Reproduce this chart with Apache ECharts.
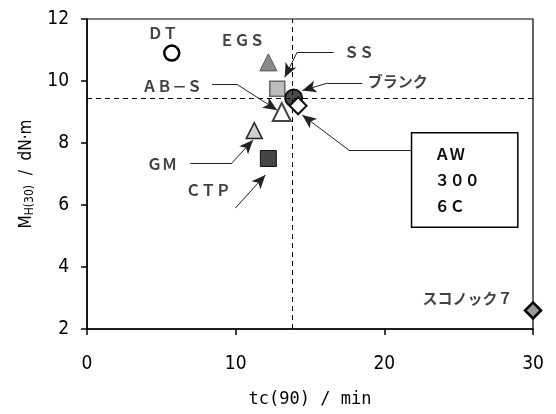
<!DOCTYPE html>
<html><head><meta charset="utf-8">
<script src="https://cdn.jsdelivr.net/npm/echarts@6/dist/echarts.min.js"></script>
<style>html,body{margin:0;padding:0;background:#fff}#c{width:556px;height:414px}</style>
</head><body><div id="c"></div>
<script>
// ---- data ----
const xTicks = [0, 10, 20, 30];
const yTicks = [2, 4, 6, 8, 10, 12];
const pointNames = ['DT', 'EGS', 'SS', 'AB-S', 'GM', 'CTP', 'ブランク', 'AW3006C', 'スコノック7'];
const tc90 = [5.7, 12.2, 12.8, 13.1, 11.25, 12.2, 13.9, 14.2, 30];
const mh30 = [10.9, 10.6, 9.75, 9.0, 8.4, 7.5, 9.45, 9.2, 2.6];
const refTc = 13.8;
const refMh = 9.45;
const labelTexts = ['ＤＴ', 'ＥＧＳ', 'ＳＳ', 'ＡＢ－Ｓ', 'ブランク', 'ＧＭ', 'ＣＴＰ', 'スコノック７'];
const labelX = [5.1, 10.43, 18.3, 5.71, 20.9, 5.04, 8.16, 25.6];
const labelY = [11.54, 11.3, 10.91, 9.84, 9.98, 7.32, 6.48, 2.99];
const arrowPaths = [
  [[16.59, 10.93], [14.14, 10.93], [13.3, 10.12]],   // SS
  [[8.41, 9.89], [10.09, 9.89], [12.79, 9.06]],      // AB-S
  [[18.52, 9.93], [16.16, 9.93], [14.48, 9.69]],     // ブランク
  [[21.83, 7.77], [17.62, 7.77], [14.48, 8.9]],      // AW 300 6C
  [[6.95, 7.36], [9.76, 7.36], [11.17, 8.1]],        // GM
  [[9.98, 5.9], [12.0, 6.97]]                        // CTP
];
const boxCorners = [[21.83, 8.33], [28.98, 5.28]];
const boxText = ['ＡＷ', '３００', '６Ｃ'];

// ---- styles ----
const markerStyles = [
  {symbol: 'circle', size: 15, color: '#fff', border: '#000', bw: 2.5},
  {symbol: 'triangle', size: 17, color: '#8a8a8a', border: '#555', bw: 1},
  {symbol: 'rect', size: 15, color: '#bdbdbd', border: '#666', bw: 1.5},
  {symbol: 'triangle', size: 18, color: '#fff', border: '#444', bw: 2},
  {symbol: 'triangle', size: 16, color: '#cfcfcf', border: '#222', bw: 1.5},
  {symbol: 'rect', size: 16, color: '#454545', border: '#111', bw: 1},
  {symbol: 'circle', size: 17, color: '#4a4a4a', border: '#111', bw: 2},
  {symbol: 'diamond', size: 17, color: '#fff', border: '#111', bw: 2},
  {symbol: 'diamond', size: 16, color: '#9a9a9a', border: '#000', bw: 2.5}
];
const JP = '"Noto Sans CJK JP", sans-serif';
const NARROW = '"Liberation Sans Narrow", "DejaVu Sans Condensed", sans-serif';

const series = [];
// reference dashed lines
series.push({
  type: 'scatter', data: [], silent: true,
  markLine: {
    silent: true, symbol: ['none', 'none'], animation: false,
    label: {show: false},
    lineStyle: {type: [5, 4], color: '#000', width: 1},
    data: [{xAxis: refTc}, {yAxis: refMh}]
  }
});
// annotation box
series.push({
  type: 'scatter', data: [], silent: true, z: 1,
  markArea: {
    silent: true, animation: false,
    itemStyle: {color: '#fff', borderColor: '#000', borderWidth: 1.5},
    label: {show: true, position: 'insideLeft', distance: 24, formatter: boxText.join('\n'),
            fontFamily: JP, fontSize: 15, fontWeight: 'bold', lineHeight: 26, color: '#111'},
    data: [[{coord: boxCorners[0]}, {coord: boxCorners[1]}]]
  }
});
// points
pointNames.forEach((n, i) => {
  const s = markerStyles[i];
  series.push({
    type: 'scatter', name: n, z: 3,
    symbol: s.symbol, symbolSize: s.size,
    itemStyle: {color: s.color, borderColor: s.border, borderWidth: s.bw, opacity: 1},
    data: [[tc90[i], mh30[i]]]
  });
});
// arrows
const arrowSegs = [];
arrowPaths.forEach(p => {
  for (let k = 0; k < p.length - 1; k++) {
    const last = k === p.length - 2;
    arrowSegs.push([
      {coord: p[k], symbol: 'none'},
      {coord: p[k + 1], symbol: last ? 'arrow' : 'none', symbolSize: [9, 14]}
    ]);
  }
});
series.push({
  type: 'scatter', data: [], silent: true, z: 4,
  markLine: {
    silent: true, animation: false, label: {show: false},
    lineStyle: {type: 'solid', color: '#222', width: 1},
    itemStyle: {color: '#111'},
    data: arrowSegs
  }
});
// text labels
series.push({
  type: 'scatter', silent: true, z: 5, symbolSize: 0,
  data: labelTexts.map((t, i) => [labelX[i], labelY[i], t]),
  label: {show: true, position: 'inside', formatter: p => p.data[2],
          fontFamily: JP, fontSize: 15, fontWeight: 'bold', color: '#111'}
});

const chart = echarts.init(document.getElementById('c'));
chart.setOption({
  animation: false,
  backgroundColor: '#fff',
  grid: {left: 87, right: 23, top: 19, bottom: 85, show: true, borderColor: '#000', borderWidth: 1.2},
  xAxis: {
    type: 'value', min: xTicks[0], max: xTicks[xTicks.length - 1], interval: 10,
    name: 'tc(90) / min', nameLocation: 'middle', nameGap: 62,
    nameTextStyle: {fontFamily: '"DejaVu Sans Mono", monospace', fontSize: 17, color: '#000'},
    axisLine: {onZero: false, lineStyle: {color: '#000', width: 1.5}},
    axisTick: {show: true, inside: false, length: 6, lineStyle: {color: '#000', width: 1.5}},
    axisLabel: {fontFamily: NARROW, fontSize: 19, color: '#000', margin: 26},
    splitLine: {show: false}
  },
  yAxis: {
    type: 'value', min: yTicks[0], max: yTicks[yTicks.length - 1], interval: 2,
    name: '{a|M}{s|H(30)}{a|  /  dN·m}', nameLocation: 'middle', nameGap: 50,
    nameTextStyle: {
      color: '#000',
      rich: {
        a: {fontFamily: NARROW, fontSize: 17, color: '#000'},
        s: {fontFamily: NARROW, fontSize: 12, color: '#000', verticalAlign: 'bottom', padding: [8, 0, 0, 0]}
      }
    },
    axisLine: {onZero: false, lineStyle: {color: '#000', width: 1.5}},
    axisTick: {show: true, inside: false, length: 6, lineStyle: {color: '#000', width: 1.5}},
    axisLabel: {fontFamily: NARROW, fontSize: 19, color: '#000', margin: 18},
    splitLine: {show: false}
  },
  series: series
});
</script></body></html>
